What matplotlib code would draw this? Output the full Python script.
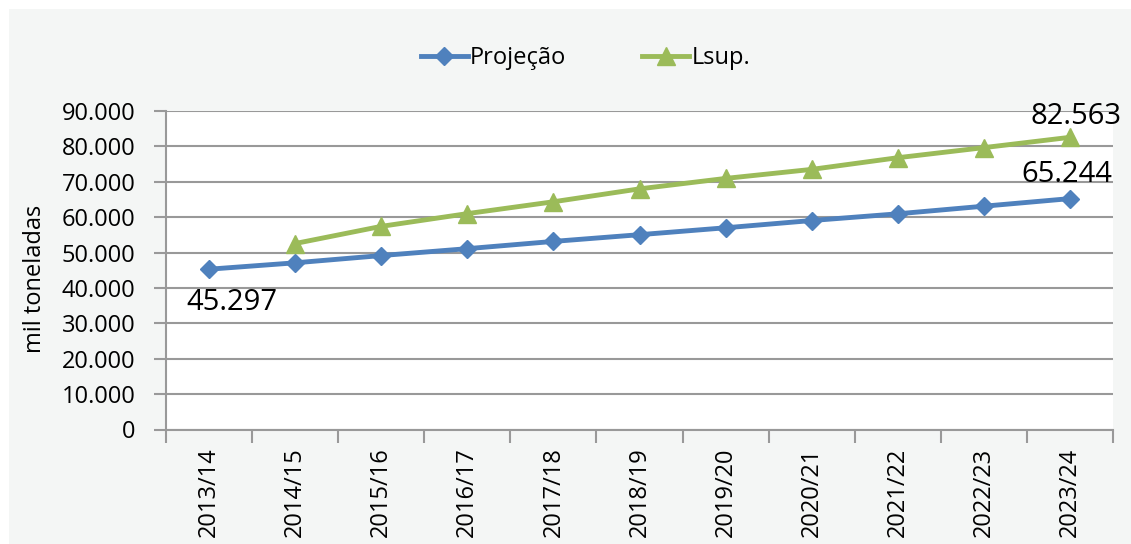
import matplotlib
matplotlib.use("Agg")
import matplotlib.pyplot as plt
from matplotlib.patches import Rectangle
from matplotlib.ticker import FuncFormatter, FixedLocator

# data
safras = ["2013/14", "2014/15", "2015/16", "2016/17", "2017/18", "2018/19",
          "2019/20", "2020/21", "2021/22", "2022/23", "2023/24"]
projecao = [45297, 47100, 49150, 51100, 53150, 55050, 57000, 59050, 60950, 63100, 65244]
lsup = [None, 52550, 57400, 61000, 64350, 68000, 70950, 73500, 76800, 79650, 82563]

plt.rcParams["font.family"] = ["Open Sans", "DejaVu Sans"]

fig = plt.figure(figsize=(11.31, 5.44), dpi=100, facecolor="white")
fig.patches.append(Rectangle((9 / 1131, 0), 1 - 9 / 1131, 1 - 9 / 544,
                             transform=fig.transFigure, facecolor="#f4f6f5",
                             edgecolor="none", zorder=-10))

ax = fig.add_axes([166 / 1131, 1 - 429.5 / 544, 947 / 1131, (429.5 - 111) / 544])
ax.set_facecolor("white")

x = list(range(len(safras)))
blue = "#4f81bd"
green = "#9bbb59"

ax.plot(x, projecao, color=blue, lw=3.5, marker="D", ms=9.5,
        label="Projeção", zorder=3)
xl = [i for i, v in zip(x, lsup) if v is not None]
yl = [v for v in lsup if v is not None]
ax.plot(xl, yl, color=green, lw=3.5, marker="^", ms=13,
        label="Lsup.", zorder=3)

ax.set_xlim(-0.5, len(safras) - 0.5)
ax.set_ylim(0, 90000)
ax.set_yticks(range(0, 90001, 10000))
ax.yaxis.set_major_formatter(FuncFormatter(lambda v, p: f"{int(v):,}".replace(",", ".")))
ax.grid(axis="y", color="#999999", lw=1.5)
ax.set_axisbelow(True)

ax.set_xticks(x)
ax.set_xticklabels(safras, rotation=90)
ax.xaxis.set_minor_locator(FixedLocator([i - 0.5 for i in range(len(safras) + 1)]))
ax.tick_params(axis="x", which="major", length=0, pad=13, labelsize=17)
ax.tick_params(axis="x", which="minor", length=9, width=1.5, color="#999999")
ax.tick_params(axis="y", length=9, width=1.5, color="#999999", pad=13, labelsize=17)

for s in ["top", "right"]:
    ax.spines[s].set_visible(False)
for s in ["left", "bottom"]:
    ax.spines[s].set_color("#999999")
    ax.spines[s].set_linewidth(1.5)

fig.text(35 / 1131, 1 - 279 / 544, "mil toneladas", rotation=90,
         ha="center", va="center", fontsize=17)

# data labels
lbl = dict(textcoords="offset pixels", ha="center", va="center", fontsize=21)
ax.annotate("45.297", (0, projecao[0]), xytext=(23, -33), **lbl)
ax.annotate("65.244", (10, projecao[-1]), xytext=(-3, 24), **lbl)
ax.annotate("82.563", (10, lsup[-1]), xytext=(6, 21), **lbl, annotation_clip=False)

fig.legend(loc="center", bbox_to_anchor=(0.5 + 20 / 1131, 1 - 58 / 544), ncol=2,
           frameon=False, fontsize=17, handlelength=2.0, handletextpad=0.1,
           columnspacing=3.2)

fig.savefig("out.png", dpi=100, facecolor=fig.get_facecolor())
